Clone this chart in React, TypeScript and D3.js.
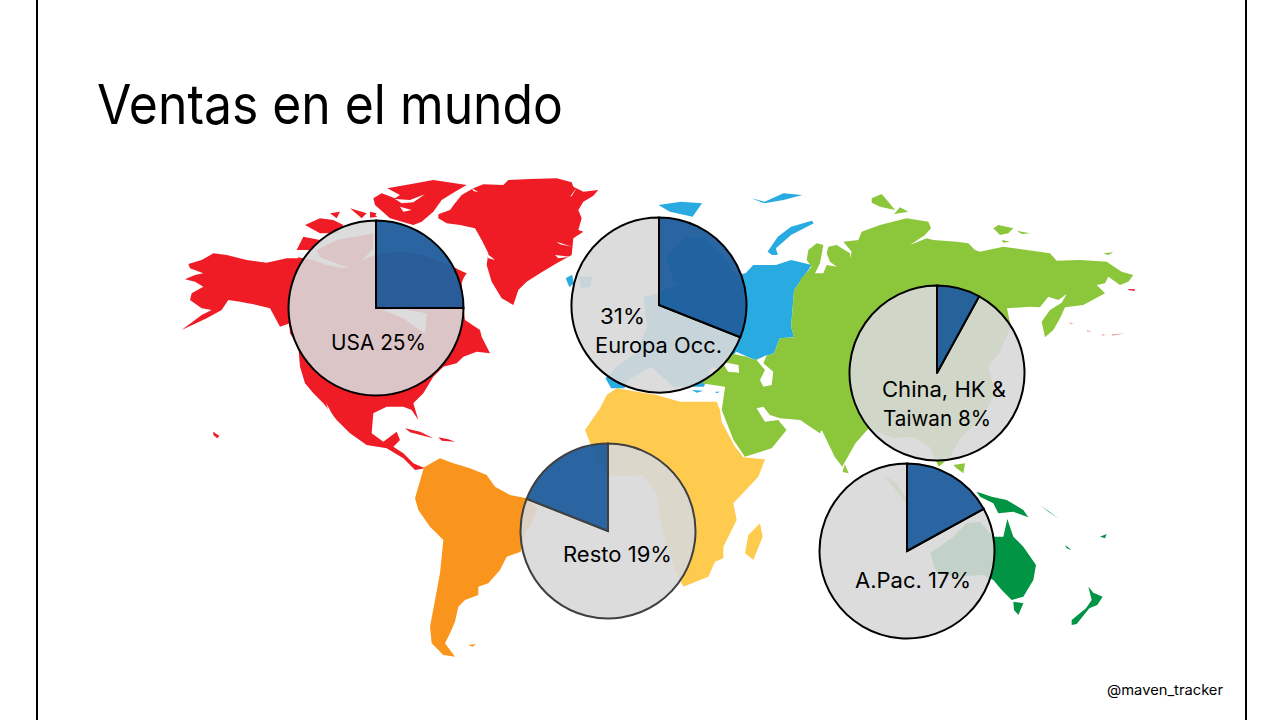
import React from "react";
import * as D3 from "d3";

type P = [number, number];
type Shape = { frame: keyof typeof frames; color: string; pts: P[] };

const title = "Ventas en el mundo";
const credit = "@maven_tracker";

const RED = "#EF1C25", LIME = "#8CC63B", SKY = "#29ABE2", AMBER = "#FFCB4F", ORANGE = "#F9951D", GREEN = "#009444", WHITE = "#FFFFFF", PINK = "#F7A0A4";

// Tracing frames for the map outlines: [origin x, origin y, units per px x, units per px y]
const frames = {
  A: [170, 170, 3, 3],
  B: [560, 180, 2.64, 3],
  C: [400, 380, 3, 3],
  D: [810, 440, 3, 3],
  E: [370, 175, 3, 3],
  F: [800, 190, 3, 3],
  G: [600, 340, 3, 3],
  H: [170, 240, 3, 3],
} as const;

const alaska: P[] = [[55,72],[95,60],[130,40],[170,45],[230,60],[290,68],[350,55],[390,55],[390,260],[360,250],[330,260],[300,205],[260,195],[210,185],[175,180],[155,210],[110,235],[35,270],[95,225],[125,210],[95,205],[60,180],[65,160],[100,140],[75,125],[45,118],[75,105],[100,100],[60,85]];
const northAmerica: P[] = [[385,262],[430,270],[470,285],[520,295],[560,280],[600,260],[640,250],[700,245],[760,255],[800,270],[850,290],[885,310],[875,340],[880,415],[885,450],[930,480],[935,500],[960,550],[920,545],[880,560],[860,580],[820,590],[790,620],[760,670],[730,700],[745,750],[725,720],[700,710],[650,710],[610,730],[605,790],[640,815],[680,785],[690,810],[670,830],[700,850],[730,880],[765,895],[735,900],[700,865],[650,835],[590,825],[540,790],[500,750],[460,700],[430,670],[405,640],[390,590],[385,530],[360,490],[355,420],[360,300]];
const hudsonBay: P[] = [[640,420],[700,418],[770,430],[765,490],[735,470],[700,445]];
const baja: P[] = [[468,698],[485,730],[510,772],[482,745]];
const ellesmere: P[] = [[52,40],[120,28],[190,15],[290,30],[255,50],[215,75],[190,110],[155,140],[130,150],[60,130],[15,90],[10,70],[35,55],[75,70],[90,60]];
const ellesmereVeinA: P[] = [[75,72],[120,75],[165,58],[130,82],[95,85]];
const ellesmereVeinB: P[] = [[90,95],[125,105],[100,110]];
const baffinStub: P[] = [[0,110],[22,125],[0,128]];
const labrador: P[] = [[250,278],[290,295],[272,322],[255,310]];
const arcticIslandsInner: P[] = [[440,240],[500,210],[610,190],[610,235],[560,290],[520,288],[450,262]];
const banksIsland: P[] = [[405,165],[450,145],[490,150],[520,165],[500,190],[450,190]];
const victoriaIsland: P[] = [[380,240],[400,200],[450,210],[430,240]];
const parryA: P[] = [[480,130],[510,125],[500,145]];
const parryB: P[] = [[540,115],[590,130],[575,145]];
const parryC: P[] = [[600,125],[620,130],[612,142]];
const greenland: P[] = [[205,118],[240,105],[255,85],[275,60],[310,40],[340,28],[400,30],[415,15],[480,12],[560,10],[605,22],[610,35],[640,50],[685,45],[670,62],[640,80],[625,105],[635,130],[625,165],[640,170],[610,190],[605,240],[560,265],[510,295],[470,320],[445,345],[430,390],[395,370],[365,320],[350,270],[355,235],[335,195],[315,160],[270,150],[230,145],[205,130]];
const fjordA: P[] = [[560,200],[605,215],[570,208]];
const fjordB: P[] = [[555,240],[600,245],[565,250]];
const fjordC: P[] = [[600,65],[620,38],[606,62]];
const fjordD: P[] = [[350,235],[375,255],[355,250]];
const fjordE: P[] = [[305,38],[325,52],[310,48]];
const cuba: P[] = [[705,775],[750,785],[790,805],[760,797],[720,787]];
const hispaniola: P[] = [[805,802],[835,808],[855,815],[815,812]];
const hawaii: P[] = [[130,785],[148,798],[142,805],[130,795]];

const southAmerica: P[] = [[72,262],[120,235],[160,250],[210,265],[260,285],[285,320],[330,345],[380,355],[412,385],[400,420],[375,460],[362,515],[320,530],[300,570],[265,610],[235,620],[235,645],[195,660],[175,680],[165,725],[150,760],[135,790],[165,830],[130,825],[95,790],[90,740],[105,660],[120,580],[130,480],[90,440],[55,390],[45,355],[55,320]];
const falklands: P[] = [[205,795],[228,792],[218,800]];
const africa: P[] = [[600,85],[620,45],[650,25],[770,45],[840,65],[860,65],[950,65],[960,90],[965,125],[1005,200],[1030,232],[1095,238],[1075,290],[1000,370],[1010,420],[970,500],[970,535],[945,545],[925,590],[850,620],[830,580],[790,470],[780,420],[770,340],[730,285],[630,290],[590,240],[555,150]];
const madagascar: P[] = [[1080,430],[1088,470],[1060,540],[1035,520],[1045,465]];

const europe: P[] = [[490,280],[510,255],[570,255],[610,240],[665,255],[640,295],[618,330],[610,440],[618,472],[580,475],[565,520],[515,540],[465,515],[430,570],[400,560],[380,620],[300,620],[240,560],[180,600],[170,625],[135,625],[120,595],[150,560],[200,520],[230,440],[220,350],[260,340],[330,300],[400,300]];
const scandinavia: P[] = [[280,230],[330,170],[380,170],[440,240],[470,300],[300,310]];
const britain: P[] = [[50,290],[85,290],[80,320],[55,325]];
const iceland: P[] = [[15,295],[32,284],[36,310],[25,322]];
const svalbard: P[] = [[260,75],[320,65],[375,70],[350,110],[290,95]];
const novayaZemlya: P[] = [[548,215],[575,170],[610,140],[665,122],[670,130],[610,165],[570,205],[575,225],[560,225]];
const franzJosef: P[] = [[505,55],[540,65],[590,40],[640,45],[590,60],[540,70]];
const sicily: P[] = [[275,150],[310,152],[290,158]];
const crete: P[] = [[345,155],[360,155],[350,160]];

const asiaNorth: P[] = [[0,270],[35,230],[20,210],[25,180],[50,160],[70,165],[60,220],[45,250],[70,250],[80,225],[110,230],[90,215],[80,190],[85,170],[110,165],[150,190],[150,205],[155,185],[130,155],[175,150],[185,125],[240,105],[320,85],[385,95],[393,115],[375,135],[330,165],[380,145],[400,150],[470,155],[505,160],[525,180],[540,185],[610,170],[680,180],[750,190],[770,212],[840,210],[920,215],[965,245],[1000,255],[985,275],[960,285],[925,260],[915,280],[890,285],[915,310],[850,345],[795,352],[780,385],[760,420],[735,442],[725,395],[750,360],[785,338],[800,312],[775,330],[745,320],[720,352],[690,350],[620,355],[560,400],[400,480],[0,480]];
const asiaSouth: P[] = [[640,295],[900,300],[1180,385],[1190,440],[1160,520],[1130,560],[1150,640],[1110,720],[1060,770],[1030,830],[1000,860],[975,800],[930,770],[880,775],[815,745],[780,790],[745,860],[725,830],[691,750],[686,760],[634,720],[581,715],[554,705],[537,680],[519,685],[541,725],[576,720],[598,750],[559,805],[488,830],[458,780],[427,690],[436,620],[374,610],[420,560],[449,520],[493,530],[515,540],[565,520],[580,475],[618,472],[610,440],[618,330]];
const blackSea: P[] = [[427,545],[471,555],[473,578],[444,575]];
const caspian: P[] = [[519,540],[546,525],[537,550],[563,575],[559,615],[537,620],[528,600],[541,570]];
const sriLanka: P[] = [[752,853],[762,880],[746,876]];
const severnayaA: P[] = [[215,25],[245,12],[265,35],[285,60],[240,50],[215,38]];
const severnayaB: P[] = [[282,72],[300,52],[325,65]];
const newSiberiaA: P[] = [[580,115],[595,105],[620,110],[640,115],[625,130],[600,135]];
const newSiberiaB: P[] = [[650,122],[690,130],[665,132]];
const newSiberiaC: P[] = [[605,150],[630,155],[610,158]];
const wrangel: P[] = [[910,190],[940,187],[925,195]];
const chukotkaTip: P[] = [[985,297],[1005,298],[1003,303],[985,300]];
const aleutianA: P[] = [[808,397],[822,402],[810,402]];
const aleutianB: P[] = [[860,420],[875,425],[862,425]];
const aleutianC: P[] = [[905,432],[918,434],[907,437]];
const aleutianD: P[] = [[935,433],[975,430],[937,437]];

const australia: P[] = [[592,237],[610,290],[640,320],[678,375],[670,420],[640,470],[605,480],[575,450],[550,420],[520,405],[440,410],[380,400],[360,340],[430,290],[470,250],[510,245],[550,290],[580,290]];
const newZealand: P[] = [[835,440],[850,458],[878,470],[862,495],[838,505],[800,552],[785,555],[785,540],[828,505],[845,480]];
const tasmania: P[] = [[610,485],[640,490],[625,525],[612,510]];
const newGuinea: P[] = [[500,155],[545,170],[590,180],[640,210],[655,232],[610,215],[565,220],[550,190],[510,170]];
const melanesiaA: P[] = [[690,195],[745,235],[715,215]];
const melanesiaB: P[] = [[765,315],[785,330],[770,325]];
const fiji: P[] = [[870,290],[890,282],[885,295]];
const sumatra: P[] = [[220,105],[260,130],[310,210],[280,180]];
const philippines: P[] = [[430,75],[465,70],[460,100],[440,85]];

const shape = (frame: Shape["frame"], color: string, list: P[][]): Shape[] => list.map((pts) => ({ frame, color, pts }));

const shapes: Shape[] = [
  ...shape("H", RED, [alaska]),
  ...shape("A", RED, [northAmerica, arcticIslandsInner, banksIsland, victoriaIsland, parryA, parryB, parryC, cuba, hispaniola, hawaii]),
  ...shape("E", RED, [greenland, ellesmere, baffinStub, labrador]),
  ...shape("E", WHITE, [ellesmereVeinA, ellesmereVeinB, fjordA, fjordB, fjordC, fjordD, fjordE]),
  ...shape("A", WHITE, [hudsonBay, baja]),
  ...shape("C", ORANGE, [southAmerica, falklands]),
  ...shape("C", AMBER, [africa, madagascar]),
  ...shape("B", SKY, [europe, scandinavia, britain, iceland, svalbard, novayaZemlya, franzJosef]),
  ...shape("G", SKY, [sicily, crete]),
  ...shape("B", LIME, [asiaSouth, sriLanka]),
  ...shape("F", LIME, [asiaNorth, severnayaA, severnayaB, newSiberiaA, newSiberiaB, newSiberiaC, wrangel]),
  ...shape("F", RED, [chukotkaTip]),
  ...shape("F", PINK, [aleutianA, aleutianB, aleutianC, aleutianD]),
  ...shape("B", WHITE, [blackSea, caspian]),
  ...shape("D", GREEN, [australia, newZealand, tasmania, newGuinea, melanesiaA, melanesiaB, fiji]),
  ...shape("D", LIME, [sumatra, philippines]),
];

// Pies
const pieNames = ["USA", "Europa Occ.", "China, HK & Taiwan", "Resto", "A.Pac."];
const pieValues = [25, 31, 8, 19, 17];
const labelTexts = ["USA 25%", "31%", "Europa Occ.", "China, HK &", "Taiwan 8%", "Resto 19%", "A.Pac. 17%"];

const pieCenters: P[] = [[376, 308], [659, 305], [937, 373], [608, 531], [907, 551]];
const pieStartsBack = [false, false, false, true, false];
const pieStroke = ["#000", "#000", "#000", "#404040", "#000"];
const labelPlace = [[331, 350, 95], [600, 324, 45], [595, 353, 127], [882, 397, 124], [883, 426, 108], [563, 562, 109], [855, 588, 116]];
const RADIUS = 87.5;
const TEXT_FONT = "Inter, 'Noto Sans', sans-serif";

function toPath(s: Shape): string {
  const [x0, y0, kx, ky] = frames[s.frame];
  const sx = D3.scaleLinear().domain([0, 1000]).range([x0, x0 + 1000 / kx]);
  const sy = D3.scaleLinear().domain([0, 1000]).range([y0, y0 + 1000 / ky]);
  const line = D3.line<P>().x((d) => sx(d[0])).y((d) => sy(d[1])).curve(D3.curveLinearClosed);
  return line(s.pts) ?? "";
}

export default function App() {
  const arc = D3.arc<any>().innerRadius(0).outerRadius(RADIUS);
  return (
    <svg width={1280} height={720} style={{ position: "absolute", left: 0, top: 0, background: "#fff" }}>
      <line x1={37} x2={37} y1={0} y2={720} stroke="#000" strokeWidth={2} />
      <line x1={1246} x2={1246} y1={0} y2={720} stroke="#000" strokeWidth={2} />
      <text x={97} y={124} fontFamily={TEXT_FONT} fontSize={55} fill="#000" textLength={466} lengthAdjust="spacingAndGlyphs">{title}</text>
      <g>
        {shapes.map((s, i) => <path key={i} d={toPath(s)} fill={s.color} />)}
      </g>
      {pieValues.map((v, i) => {
        const start = pieStartsBack[i] ? -(v / 100) * 2 * Math.PI : 0;
        const pie = D3.pie<number>().sort(null).startAngle(start).endAngle(start + 2 * Math.PI);
        const arcs = pie([v, 100 - v]);
        return (
          <g key={pieNames[i]} transform={`translate(${pieCenters[i][0]},${pieCenters[i][1]})`}>
            <path d={arc(arcs[1]) ?? ""} fill="#D8D8D8" fillOpacity={0.9} stroke={pieStroke[i]} strokeWidth={2} />
            <path d={arc(arcs[0]) ?? ""} fill="#215F9E" fillOpacity={0.96} stroke={pieStroke[i]} strokeWidth={2} strokeLinejoin="round" />
          </g>
        );
      })}
      {labelTexts.map((t, i) => (
        <text key={t} x={labelPlace[i][0]} y={labelPlace[i][1]} fontFamily={TEXT_FONT} fontSize={21} fill="#000" textLength={labelPlace[i][2]} lengthAdjust="spacingAndGlyphs">{t}</text>
      ))}
      <text x={1107} y={695} fontFamily={TEXT_FONT} fontSize={14} fill="#000" textLength={116} lengthAdjust="spacingAndGlyphs">{credit}</text>
    </svg>
  );
}
